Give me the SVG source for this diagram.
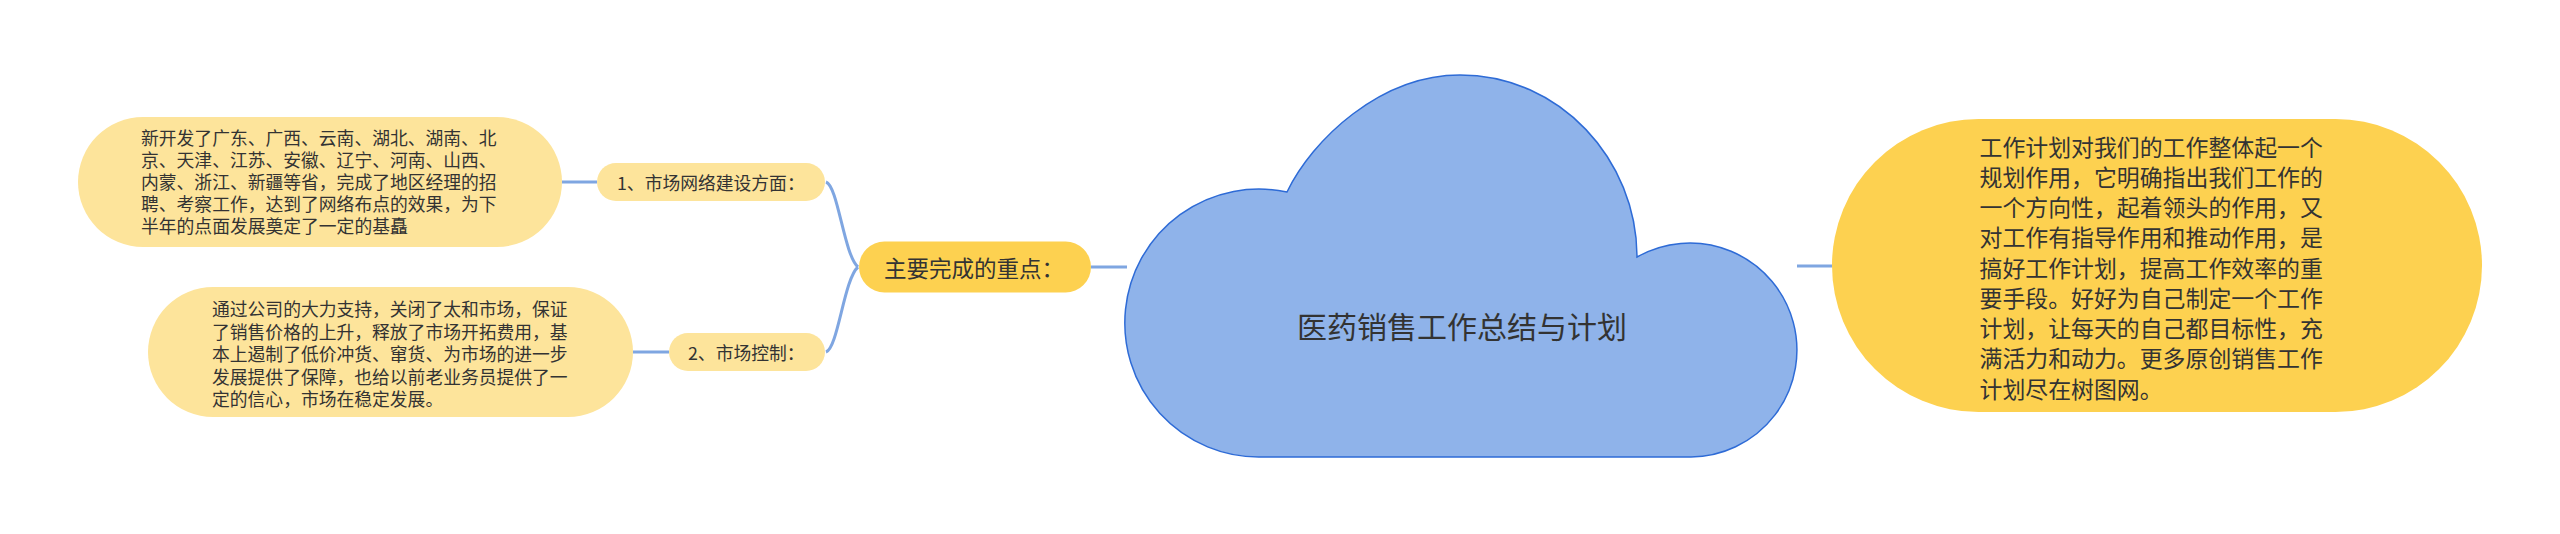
<svg xmlns="http://www.w3.org/2000/svg" width="2560" height="534" viewBox="0 0 2560 534">
<style>
.t{font-family:"Noto Sans CJK SC","Microsoft YaHei",sans-serif;fill:#333333;dominant-baseline:central}
.s{font-size:17.8px}
.pale{fill:#fde49b}
.gold{fill:#fdd150}
.ln{fill:none;stroke:#7fa6e1;stroke-width:3}
</style>
<rect width="2560" height="534" fill="#ffffff"/>
<g id="connectors">
<path class="ln" d="M562,182 L597,182"/>
<path class="ln" d="M633,352 L669,352"/>
<path class="ln" d="M826,182 C838,186 844,255 858,267"/>
<path class="ln" d="M826,352 C838,348 844,279 858,267"/>
<path class="ln" d="M1091,267 L1127,267"/>
<path class="ln" d="M1797,266 L1832,266"/>
</g>
<g id="root">
<path d="M1287,192 C1312,140 1380,75 1460,75 C1560,75 1637,160 1637,257 A107,107 0 1 1 1691,457 L1260,457 A134,134 0 1 1 1287,192 Z" fill="#8fb3ea" stroke="#2e6bd6" stroke-width="1.5"/>
<text class="t" x="1462" y="325" font-size="30" text-anchor="middle">医药销售工作总结与计划</text>
</g>
<g id="main-points">
<rect class="gold" x="859" y="241.5" width="232" height="51" rx="25.5"/>
<text class="t" x="884" y="267" font-size="22.5">主要完成的重点：</text>
</g>
<g id="branch-1">
<rect class="pale" x="597" y="163" width="228" height="38" rx="19"/>
<text class="t s" x="617" y="182">1、市场网络建设方面：</text>
</g>
<g id="branch-2">
<rect class="pale" x="669" y="333" width="156" height="38" rx="19"/>
<text class="t s" x="688" y="352">2、市场控制：</text>
</g>
<g id="leaf-1">
<rect class="pale" x="78" y="117" width="484" height="130" rx="65"/>
<text class="t s" x="141">
<tspan x="141" y="136.7">新开发了广东、广西、云南、湖北、湖南、北</tspan>
<tspan x="141" y="158.8">京、天津、江苏、安徽、辽宁、河南、山西、</tspan>
<tspan x="141" y="180.9">内蒙、浙江、新疆等省，完成了地区经理的招</tspan>
<tspan x="141" y="203">聘、考察工作，达到了网络布点的效果，为下</tspan>
<tspan x="141" y="225.1">半年的点面发展奠定了一定的基矗</tspan>
</text>
</g>
<g id="leaf-2">
<rect class="pale" x="148" y="287" width="485" height="130" rx="65"/>
<text class="t s">
<tspan x="212" y="308.3">通过公司的大力支持，关闭了太和市场，保证</tspan>
<tspan x="212" y="330.8">了销售价格的上升，释放了市场开拓费用，基</tspan>
<tspan x="212" y="353.3">本上遏制了低价冲货、窜货、为市场的进一步</tspan>
<tspan x="212" y="375.8">发展提供了保障，也给以前老业务员提供了一</tspan>
<tspan x="212" y="398.3">定的信心，市场在稳定发展。</tspan>
</text>
</g>
<g id="summary">
<rect class="gold" x="1832" y="119" width="650" height="293" rx="146.5"/>
<text class="t" font-size="22.9">
<tspan x="1979.5" y="145.7">工作计划对我们的工作整体起一个</tspan>
<tspan x="1979.5" y="175.95">规划作用，它明确指出我们工作的</tspan>
<tspan x="1979.5" y="206.2">一个方向性，起着领头的作用，又</tspan>
<tspan x="1979.5" y="236.45">对工作有指导作用和推动作用，是</tspan>
<tspan x="1979.5" y="266.7">搞好工作计划，提高工作效率的重</tspan>
<tspan x="1979.5" y="296.95">要手段。好好为自己制定一个工作</tspan>
<tspan x="1979.5" y="327.2">计划，让每天的自己都目标性，充</tspan>
<tspan x="1979.5" y="357.45">满活力和动力。更多原创销售工作</tspan>
<tspan x="1979.5" y="387.7">计划尽在树图网。</tspan>
</text>
</g>
</svg>
